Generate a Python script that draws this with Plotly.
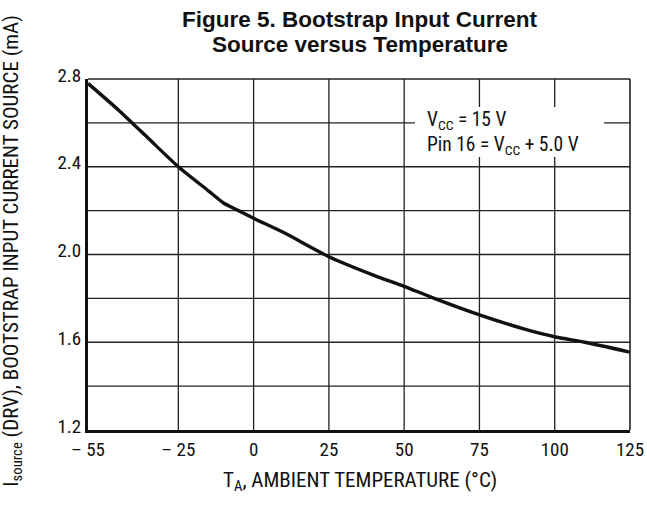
import plotly.graph_objects as go

temp_c = [-55, -45, -35, -25, -15, -10, -5, 0, 10, 25, 40, 50, 60, 75, 90, 100, 110, 125]
i_source_ma = [2.78, 2.66, 2.53, 2.40, 2.29, 2.235, 2.20, 2.165, 2.10, 1.99, 1.905, 1.855, 1.80, 1.725, 1.66, 1.625, 1.60, 1.555]

x_tick_vals = [-55, -25, 0, 25, 50, 75, 100, 125]
x_tick_text = ["– 55", "– 25", "0", "25", "50", "75", "100", "125"]
y_tick_vals = [1.2, 1.6, 2.0, 2.4, 2.8]
y_tick_text = ["1.2", "1.6", "2.0", "2.4", "2.8"]
x_grid = [-25, 0, 25, 50, 75, 100]
y_grid = [1.4, 1.6, 1.8, 2.0, 2.2, 2.4, 2.6]

title_lines = ["Figure 5. Bootstrap Input Current", "Source versus Temperature"]
x_title = "T<sub>A</sub>, AMBIENT TEMPERATURE (°C)"
y_title = "I<sub>source</sub> (DRV), BOOTSTRAP INPUT CURRENT SOURCE (mA)"
note_text = "V<sub>CC</sub> = 15 V<br>Pin 16 = V<sub>CC</sub> + 5.0 V"

NARROW = "Liberation Sans Narrow, Roboto Condensed, Arial Narrow, Liberation Sans, sans-serif"
BOLD = "Liberation Sans, Arial, Helvetica, sans-serif"
INK = "#111111"

fig = go.Figure()
fig.add_trace(go.Scatter(x=temp_c, y=i_source_ma, mode="lines",
                         line=dict(color=INK, width=3.4, shape="spline", smoothing=0.6),
                         hoverinfo="skip", showlegend=False))

shapes = []
for gx in x_grid:
    shapes.append(dict(type="line", xref="x", yref="y domain", x0=gx, x1=gx, y0=0, y1=1,
                       line=dict(color="#222222", width=1.3), layer="below"))
for gy in y_grid:
    shapes.append(dict(type="line", xref="x domain", yref="y", x0=0, x1=1, y0=gy, y1=gy,
                       line=dict(color="#222222", width=1.3), layer="below"))
# white box behind the note
shapes.append(dict(type="rect", xref="x", yref="y", x0=53.6, x1=116.4, y0=2.444, y1=2.672,
                   fillcolor="white", line=dict(width=0), layer="between"))
# top and right borders
shapes.append(dict(type="line", xref="x domain", yref="y domain", x0=0, x1=1, y0=1, y1=1,
                   line=dict(color="#222222", width=1.6)))
shapes.append(dict(type="line", xref="x domain", yref="y domain", x0=1, x1=1, y0=0, y1=1,
                   line=dict(color="#222222", width=1.6)))

annotations = [
    dict(xref="paper", yref="paper", x=0.501, y=1.2108, xanchor="center", yanchor="top",
         text="<b>" + title_lines[0] + "</b>", showarrow=False,
         font=dict(family=BOLD, size=22.5, color=INK)),
    dict(xref="paper", yref="paper", x=0.501, y=1.1396, xanchor="center", yanchor="top",
         text="<b>" + title_lines[1] + "</b>", showarrow=False,
         font=dict(family=BOLD, size=22.5, color=INK)),
    dict(xref="paper", yref="paper", x=0.501, y=-0.1026, xanchor="center", yanchor="top",
         text=x_title, showarrow=False, font=dict(family=NARROW, size=21, color=INK)),
    dict(xref="paper", yref="paper", x=-0.140, y=0.5085, xanchor="center", yanchor="middle",
         text=y_title, textangle=-90, showarrow=False,
         font=dict(family=NARROW, size=21, color=INK)),
    dict(x=57.2, y=2.556, xref="x", yref="y", xanchor="left", yanchor="middle",
         text=note_text, align="left", showarrow=False, borderpad=0,
         font=dict(family=NARROW, size=19.5, color=INK)),
]

fig.update_layout(
    width=647, height=506,
    margin=dict(l=88, r=17, t=79, b=76, autoexpand=False),
    paper_bgcolor="white", plot_bgcolor="white",
    shapes=shapes,
    annotations=annotations,
    xaxis=dict(range=[-55, 125], tickvals=x_tick_vals, ticktext=x_tick_text, automargin=False,
               showgrid=False, zeroline=False, showline=True, linewidth=3, linecolor=INK,
               ticks="", tickfont=dict(family=NARROW, size=19, color=INK)),
    yaxis=dict(range=[1.2, 2.8], tickvals=y_tick_vals, ticktext=y_tick_text, automargin=False,
               showgrid=False, zeroline=False, showline=True, linewidth=3, linecolor=INK,
               ticks="", ticklabelshift=-4, tickfont=dict(family=NARROW, size=19, color=INK)),
)

fig.write_html("out.html", config={"displayModeBar": False, "staticPlot": True},
               post_script="document.body.style.margin='0';")
